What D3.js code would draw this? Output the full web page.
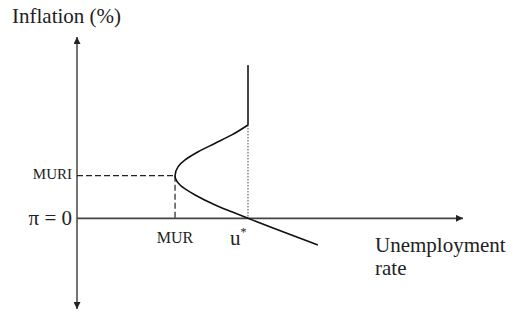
<!DOCTYPE html>
<html>
<head>
<meta charset="utf-8">
<script src="https://cdn.jsdelivr.net/npm/d3@7"></script>
<style>
  body { margin: 0; background: #fff; }
</style>
</head>
<body>
<div id="chart"></div>
<script>
// values (abstract units)
var mur = 2.54;      // minimum unemployment rate
var muri = 2.35;     // inflation at MUR
var uStar = 4.43;    // natural rate
var kinkInfl = 5.15; // where the curve turns vertical
var topInfl = 8.45;  // top of the vertical segment

var curvePts = [
  [4.43, 5.15], [4.01, 4.60], [3.58, 4.14], [3.14, 3.67], [2.80, 3.22],
  [2.62, 2.85], [2.54, 2.35], [2.67, 1.84], [3.06, 1.29], [3.58, 0.74],
  [4.01, 0.36], [4.43, 0], [6.24, -1.47]
];

var xTicks = [{v: mur, label: "MUR"}];
var yTicks = [{v: muri, label: "MURI"}, {v: 0, label: "π = 0"}];

var width = 518, height = 314;
var serif = "'Liberation Serif', 'DejaVu Serif', serif";

var x = d3.scaleLinear().domain([0, 10]).range([77, 463]);
var y = d3.scaleLinear().domain([-5, 10]).range([309, 37]);

var svg = d3.select("#chart").append("svg")
	.attr("width", width)
	.attr("height", height)
	.attr("font-family", serif);

var defs = svg.append("defs");
defs.append("marker")
	.attr("id", "arrow")
	.attr("viewBox", "0 0 10 10")
	.attr("refX", 10).attr("refY", 5)
	.attr("markerWidth", 9).attr("markerHeight", 7)
	.attr("markerUnits", "userSpaceOnUse")
	.attr("orient", "auto-start-reverse")
	.append("path")
	.attr("d", "M0,0 L10,5 L0,10 z")
	.style("fill", "#222");

// axes
svg.append("line")
	.attr("x1", x(0)).attr("x2", x(0))
	.attr("y1", y(-5)).attr("y2", y(10))
	.attr("stroke", "#444").attr("stroke-width", 1.5)
	.attr("marker-start", "url(#arrow)")
	.attr("marker-end", "url(#arrow)");

svg.append("line")
	.attr("x1", x(0)).attr("x2", x(10))
	.attr("y1", y(0)).attr("y2", y(0))
	.attr("stroke", "#444").attr("stroke-width", 1.8)
	.attr("marker-end", "url(#arrow)");

// guide lines
svg.append("line")
	.attr("x1", x(0)).attr("x2", x(mur))
	.attr("y1", y(muri)).attr("y2", y(muri))
	.attr("stroke", "#222").attr("stroke-width", 1.2)
	.attr("stroke-dasharray", "6,3");

svg.append("line")
	.attr("x1", x(mur)).attr("x2", x(mur))
	.attr("y1", y(muri)).attr("y2", y(0))
	.attr("stroke", "#222").attr("stroke-width", 1.2)
	.attr("stroke-dasharray", "6,3");

svg.append("line")
	.attr("x1", x(uStar)).attr("x2", x(uStar))
	.attr("y1", y(kinkInfl)).attr("y2", y(0))
	.attr("stroke", "#444").attr("stroke-width", 1)
	.attr("stroke-dasharray", "1.5,1.5");

// vertical part of the curve
svg.append("line")
	.attr("x1", x(uStar)).attr("x2", x(uStar))
	.attr("y1", y(kinkInfl)).attr("y2", y(topInfl))
	.attr("stroke", "#444").attr("stroke-width", 2);

var line = d3.line()
	.x(function (d) { return x(d[0]); })
	.y(function (d) { return y(d[1]); })
	.curve(d3.curveMonotoneY);

svg.append("path")
	.datum(curvePts)
	.attr("d", line)
	.attr("fill", "none")
	.attr("stroke", "#111")
	.attr("stroke-width", 1.6);

// labels
svg.selectAll("text.ytick")
	.data(yTicks)
	.enter()
	.append("text")
	.attr("class", "ytick")
	.attr("x", 72)
	.attr("y", function (d) { return y(d.v); })
	.attr("dy", function (d) { return d.v == 0 ? "0.33em" : "0.2em"; })
	.attr("text-anchor", "end")
	.style("font-family", serif)
	.style("fill", "#222")
	.style("font-size", function (d) { return d.v == 0 ? "21px" : "15px"; })
	.text(function (d) { return d.label; });

svg.selectAll("text.xtick")
	.data(xTicks)
	.enter()
	.append("text")
	.attr("class", "xtick")
	.attr("x", function (d) { return x(d.v); })
	.attr("y", 243)
	.attr("text-anchor", "middle")
	.style("font-family", serif)
	.style("fill", "#222")
	.style("font-size", "16px")
	.text(function (d) { return d.label; });

var us = svg.append("text")
	.attr("x", x(uStar) - 18)
	.attr("y", 245)
	.style("font-family", serif)
	.style("fill", "#222")
	.style("font-size", "21px");
us.append("tspan").text("u");
us.append("tspan").attr("dy", -9).style("font-size", "12px").text("*");

svg.append("text")
	.attr("x", 12).attr("y", 23)
	.style("font-family", serif)
	.style("fill", "#222")
	.style("font-size", "21px")
	.text("Inflation (%)");

svg.append("text")
	.attr("x", 375).attr("y", 252)
	.style("font-family", serif)
	.style("fill", "#222")
	.style("font-size", "21px")
	.text("Unemployment");

svg.append("text")
	.attr("x", 375).attr("y", 275)
	.style("font-family", serif)
	.style("fill", "#222")
	.style("font-size", "21px")
	.text("rate");
</script>
</body>
</html>
